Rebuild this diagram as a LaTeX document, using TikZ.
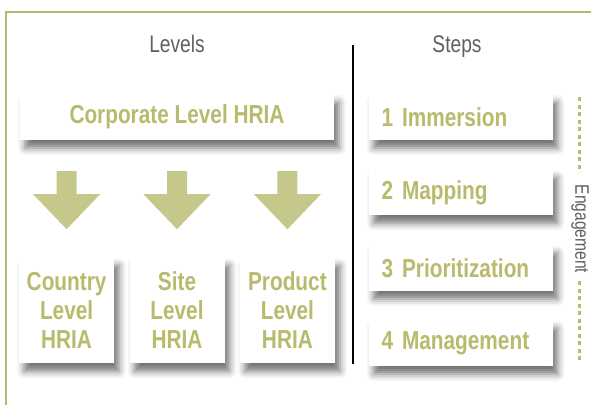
\documentclass[tikz,border=0pt]{standalone}
\usepackage{fontspec}
\setmainfont{Liberation Sans}
\newfontfamily\condfont{Liberation Sans}[FakeStretch=0.8]
\usepackage{tikz}
\usetikzlibrary{positioning, shadows.blur}
\definecolor{hriagreen}{RGB}{184,186,108}
\definecolor{hriaarrow}{RGB}{197,199,139}
\definecolor{headgray}{RGB}{96,96,96}
\tikzstyle{box} = [fill=white, inner sep=0pt, text=hriagreen,
  font=\condfont\bfseries\fontsize{26}{29}\selectfont,
  blur shadow={shadow xshift=5pt, shadow yshift=-8pt, shadow blur radius=7pt, shadow opacity=55}]
\tikzstyle{lvlbox} = [box, minimum width=95pt, minimum height=106pt, align=center]
\tikzstyle{stepbox} = [box, minimum width=184pt, minimum height=46pt, text width=158pt, align=left]
\tikzstyle{head} = [text=headgray, text height=17pt, text depth=5pt, font=\condfont\fontsize{24}{28}\selectfont]
\tikzstyle{dots} = [hriagreen, line width=3pt, dash pattern=on 4pt off 3.5pt]

\begin{document}
\begin{tikzpicture}[x=1pt, y=-1pt]
        \useasboundingbox (0,0) rectangle (591,405);
        \draw [hriagreen, line width=2pt] (6,405) -- (6,12) -- (591,12);
        \node (levels) [head] at (177,46) {Levels};
        \node (steps) [head] at (457,46) {Steps};
        % levels
        \node (corp) [box, minimum width=314pt, minimum height=46pt] at (177,117) {Corporate Level HRIA};
        \node (site) [lvlbox, below=117pt of corp] {Site\\Level\\HRIA};
        \node (country) [lvlbox, left=15pt of site] {Country\\Level\\HRIA};
        \node (product) [lvlbox, right=15pt of site] {Product\\Level\\HRIA};
        \foreach \b in {country, site, product}
          \fill [hriaarrow] ($(\b.north)+(-10,-86)$) -- ++(20,0) -- ++(0,23) -- ++(23.5,0)
            -- ++(-33.5,35) -- ++(-33.5,-35) -- ++(23.5,0) -- cycle;
        \draw [line width=1.5pt] (353,45) -- (353,364);
        % steps
        \node (s1) [stepbox] at (460.5,117) {1\hspace{9pt}Immersion};
        \node (s2) [stepbox, below=29pt of s1] {2\hspace{9pt}Mapping};
        \node (s3) [stepbox, below=29pt of s2] {3\hspace{9pt}Prioritization};
        \node (s4) [stepbox, below=29pt of s3] {4\hspace{9pt}Management};
        \node (eng) [text=headgray, rotate=-90, font=\condfont\fontsize{19.5}{21}\selectfont] at (580,229) {Engagement};
        \draw [dots] (579,97) -- (579,172);
        \draw [dots] (579,281) -- (579,363);
    \end{tikzpicture}
\end{document}
